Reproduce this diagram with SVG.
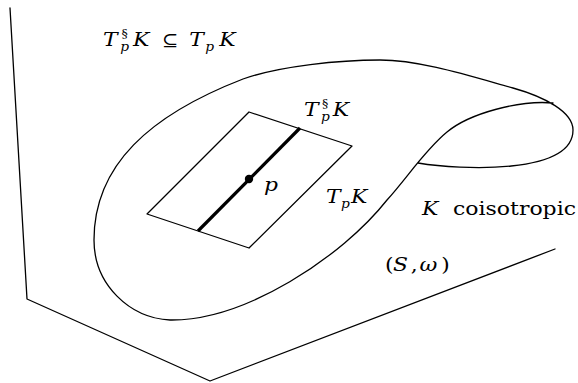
<svg xmlns="http://www.w3.org/2000/svg" width="578" height="383" viewBox="0 0 578 383">
<style>
.ln{fill:none;stroke:#000;stroke-width:1.3;stroke-linejoin:round;stroke-linecap:round}
.thick{fill:none;stroke:#000;stroke-width:3.2;stroke-linecap:butt}
.m{font-family:"DejaVu Serif","Liberation Serif",serif;font-style:italic;font-size:19px;fill:#000}
.r{font-family:"DejaVu Serif","Liberation Serif",serif;font-style:normal;font-size:19px;fill:#000}
.sup{font-size:11px;font-style:normal}
.sub{font-size:12px}
</style>
<rect width="578" height="383" fill="#fff"/>
<g id="plane">
<polyline class="ln" points="10,8 27,299 210,381 555,249"/>
</g>
<g id="surface-K">
<path class="ln" d="M418,163 C460,170 573,175 573,130 C573,112 545,97 513,88 C470,76 420,60 380,60 C340,60 280,66 243,79 C150,115 94,165 94,240 C94,285 130,318 170,320 C245,321 342,257 387,200 C407,178 425,150 447,132 C470,113 520,100 553,103"/>
</g>
<g id="tangent-plane">
<polygon class="ln" points="147,214 249,112 352,146 249,248"/>
<line class="thick" x1="300" y1="128" x2="198" y2="231"/>
<circle cx="249" cy="179" r="4.2" fill="#000"/>
</g>
<g id="labels">
<g transform="translate(103,46) scale(1.15,1)">
<text class="m" x="0" y="0">T</text>
<text class="r sup" x="16" y="-9">§</text>
<text class="m sub" x="15" y="5">p</text>
<text class="m" x="26" y="0">K</text>
<text class="r" x="51" y="0" style="font-size:17px">⊆</text>
<text class="m" x="75" y="0">T</text>
<text class="m sub" x="89" y="5">p</text>
<text class="m" x="101" y="0">K</text>
</g>
<g transform="translate(304,116) scale(1.15,1)">
<text class="m" x="0" y="0">T</text>
<text class="r sup" x="15.6" y="-9">§</text>
<text class="m sub" x="14.8" y="5">p</text>
<text class="m" x="25" y="0">K</text>
</g>
<g transform="translate(264,191) scale(1.15,1)">
<text class="m" x="0" y="0">p</text>
</g>
<g transform="translate(326,203) scale(1.15,1)">
<text class="m" x="0" y="0">T</text>
<text class="m sub" x="13" y="5">p</text>
<text class="m" x="21.7" y="0">K</text>
</g>
<g transform="translate(422,215) scale(1.15,1)">
<text class="m" x="0" y="0">K</text>
</g>
<text class="r" x="453" y="215" textLength="123" lengthAdjust="spacingAndGlyphs">coisotropic</text>
<g transform="translate(385,271) scale(1.15,1)">
<text class="r" x="0" y="0">(</text>
<text class="m" x="7" y="0">S</text>
<text class="r" x="22.5" y="0">,</text>
<text class="m" x="30" y="0">ω</text>
<text class="r" x="49" y="0">)</text>
</g>
</g>
</svg>
